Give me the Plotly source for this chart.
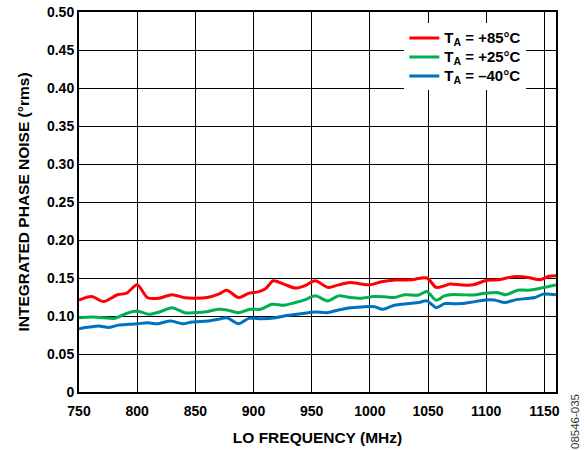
import plotly.graph_objects as go

freq_85 = [750, 761, 771, 783, 791, 800, 809, 819, 830, 841, 850, 860, 870, 877, 887, 896, 904, 910, 917, 926, 936, 944, 953, 964, 973, 983, 990, 1000, 1010, 1022, 1036, 1049, 1057, 1064, 1069, 1079, 1089, 1099, 1110, 1124, 1136, 1146, 1154, 1160]
noise_85 = [0.121, 0.1256, 0.119, 0.1279, 0.130, 0.141, 0.124, 0.1235, 0.128, 0.124, 0.1235, 0.1243, 0.1288, 0.134, 0.1243, 0.130, 0.1318, 0.1354, 0.1464, 0.142, 0.1367, 0.1398, 0.1464, 0.1376, 0.141, 0.1442, 0.1429, 0.141, 0.1451, 0.1473, 0.1477, 0.150, 0.1376, 0.1398, 0.142, 0.1407, 0.141, 0.1464, 0.1477, 0.1517, 0.1508, 0.1477, 0.1522, 0.153]

freq_25 = [750, 761, 771, 781, 791, 800, 810, 819, 830, 841, 850, 860, 870, 877, 887, 897, 906, 916, 926, 936, 944, 953, 964, 973, 983, 993, 1003, 1013, 1021, 1030, 1042, 1049, 1057, 1064, 1069, 1079, 1089, 1099, 1109, 1117, 1127, 1136, 1147, 1160]
noise_25 = [0.0978, 0.0987, 0.0978, 0.097, 0.1035, 0.1066, 0.1022, 0.1053, 0.111, 0.1044, 0.1044, 0.1057, 0.1089, 0.108, 0.1044, 0.1089, 0.1089, 0.1155, 0.1142, 0.1177, 0.1212, 0.1265, 0.1199, 0.1265, 0.1243, 0.1234, 0.1256, 0.1252, 0.1243, 0.128, 0.1276, 0.1323, 0.1208, 0.1265, 0.128, 0.128, 0.1276, 0.130, 0.131, 0.128, 0.134, 0.134, 0.1367, 0.1407]

freq_m40 = [750, 759, 767, 776, 784, 793, 800, 809, 817, 829, 839, 847, 861, 870, 877, 887, 896, 907, 919, 930, 941, 953, 963, 973, 984, 996, 1004, 1011, 1021, 1033, 1042, 1049, 1057, 1064, 1069, 1079, 1089, 1099, 1107, 1116, 1125, 1135, 1142, 1149, 1160]
noise_m40 = [0.0832, 0.0854, 0.0867, 0.085, 0.088, 0.089, 0.0898, 0.0911, 0.0898, 0.0934, 0.0898, 0.092, 0.0934, 0.0956, 0.0978, 0.0898, 0.0969, 0.0965, 0.0978, 0.1009, 0.1031, 0.1053, 0.1044, 0.108, 0.111, 0.1123, 0.1123, 0.1089, 0.1142, 0.1163, 0.1177, 0.1199, 0.111, 0.1163, 0.1163, 0.1163, 0.1186, 0.1212, 0.1212, 0.1177, 0.1212, 0.123, 0.1243, 0.1288, 0.128]

x_ticks = [750, 800, 850, 900, 950, 1000, 1050, 1100, 1150]
y_ticks = [0, 0.05, 0.10, 0.15, 0.20, 0.25, 0.30, 0.35, 0.40, 0.45, 0.50]
y_tick_labels = ["0", "0.05", "0.10", "0.15", "0.20", "0.25", "0.30", "0.35", "0.40", "0.45", "0.50"]

series = [
    (freq_85, noise_85, "T<sub>A</sub> = +85°C", "#ff0000"),
    (freq_25, noise_25, "T<sub>A</sub> = +25°C", "#00b050"),
    (freq_m40, noise_m40, "T<sub>A</sub> = –40°C", "#0070c0"),
]

FONT = "Arial, 'Liberation Sans', sans-serif"

fig = go.Figure()
for fx, fy, name, col in series:
    fig.add_trace(go.Scatter(x=fx, y=fy, mode="lines",
                             name='<span style="font-size:15px">' + name + "</span>",
                             line=dict(color=col, width=3, shape="spline", smoothing=0.8)))

fig.update_layout(
    width=584, height=450,
    margin=dict(l=79, r=28, t=12, b=58, autoexpand=False),
    paper_bgcolor="white", plot_bgcolor="white",
    font=dict(family=FONT, color="black", size=14, weight="bold"),
    showlegend=True,
    legend=dict(x=0.682, y=0.97, xanchor="left", yanchor="top",
                bgcolor="white", borderwidth=0,
                font=dict(family=FONT, size=12.3, color="black", weight="bold"),
                tracegroupgap=0, itemwidth=30),
    xaxis=dict(range=[750, 1160], tickvals=x_ticks, ticktext=[str(v) for v in x_ticks],
               showgrid=True, gridcolor="black", gridwidth=1.3,
               showline=True, linecolor="black", linewidth=2, mirror=True,
               ticks="", zeroline=False, automargin=False, ticklabelstandoff=5,
               tickfont=dict(family=FONT, size=14, color="black", weight="bold"),
               title=dict(text="LO FREQUENCY (MHz)", standoff=14,
                          font=dict(family=FONT, size=15.5, color="black", weight="bold"))),
    yaxis=dict(range=[0, 0.5], tickvals=y_ticks, ticktext=y_tick_labels,
               showgrid=True, gridcolor="black", gridwidth=1.3,
               showline=True, linecolor="black", linewidth=2, mirror=True,
               ticks="", zeroline=False, automargin=False,
               tickfont=dict(family=FONT, size=14, color="black", weight="bold"),
               title=dict(text="INTEGRATED PHASE NOISE (°rms)", standoff=14,
                          font=dict(family=FONT, size=15.5, color="black", weight="bold"))),
    annotations=[dict(text="08546-035", xref="paper", yref="paper", x=1.0, y=0.0,
                      xshift=19, yshift=-30, xanchor="center", yanchor="middle", textangle=-90,
                      showarrow=False,
                      font=dict(family=FONT, size=11.5, color="#333333", weight="normal"))],
)

fig.write_html("out.html", config={"displayModeBar": False},
               post_script="document.body.style.margin='0';document.body.style.overflow='hidden';")
